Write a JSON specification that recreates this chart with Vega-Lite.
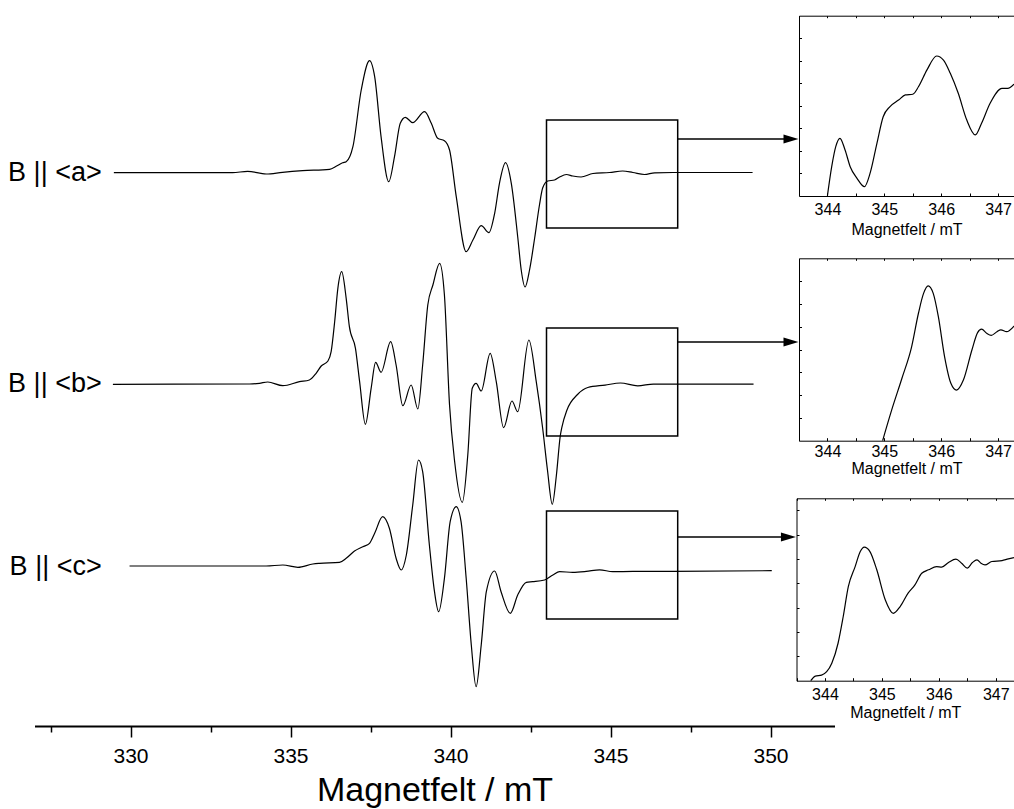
{
  "$schema": "https://vega.github.io/schema/vega-lite/v6.json",
  "width": 1014,
  "height": 809,
  "padding": 0,
  "autosize": {"type": "none"},
  "background": "white",
  "config": {
    "view": {"stroke": null},
    "font": "Liberation Sans",
    "axis": {"grid": false, "labelColor": "black", "titleColor": "black", "domainColor": "black", "tickColor": "black", "titleFontWeight": "normal", "labelOverlap": false, "labelFlush": false}
  },
  "datasets": {
    "spectra": [
      {"orientation": "a", "B": 329.48, "I": 63.63}, {"orientation": "a", "B": 333.19, "I": 63.63}, {"orientation": "a", "B": 333.66, "I": 63.77}, {"orientation": "a", "B": 334.24, "I": 63.50}, {"orientation": "a", "B": 334.75, "I": 63.67}, {"orientation": "a", "B": 335.38, "I": 63.83}, {"orientation": "a", "B": 336.22, "I": 63.97}, {"orientation": "a", "B": 336.44, "I": 64.30}, {"orientation": "a", "B": 336.63, "I": 64.63}, {"orientation": "a", "B": 336.74, "I": 64.73}, {"orientation": "a", "B": 336.95, "I": 66.23}, {"orientation": "a", "B": 337.21, "I": 71.90}, {"orientation": "a", "B": 337.47, "I": 74.83}, {"orientation": "a", "B": 337.63, "I": 73.23}, {"orientation": "a", "B": 337.83, "I": 67.23}, {"orientation": "a", "B": 338.07, "I": 62.73}, {"orientation": "a", "B": 338.25, "I": 65.23}, {"orientation": "a", "B": 338.43, "I": 68.57}, {"orientation": "a", "B": 338.59, "I": 69.17}, {"orientation": "a", "B": 338.82, "I": 68.63}, {"orientation": "a", "B": 339.19, "I": 69.73}, {"orientation": "a", "B": 339.40, "I": 68.57}, {"orientation": "a", "B": 339.60, "I": 67.07}, {"orientation": "a", "B": 339.81, "I": 66.83}, {"orientation": "a", "B": 339.97, "I": 65.90}, {"orientation": "a", "B": 340.18, "I": 61.23}, {"orientation": "a", "B": 340.49, "I": 55.73}, {"orientation": "a", "B": 340.70, "I": 56.90}, {"orientation": "a", "B": 340.96, "I": 58.33}, {"orientation": "a", "B": 341.20, "I": 57.63}, {"orientation": "a", "B": 341.38, "I": 59.57}, {"orientation": "a", "B": 341.53, "I": 62.57}, {"orientation": "a", "B": 341.72, "I": 64.63}, {"orientation": "a", "B": 341.90, "I": 62.57}, {"orientation": "a", "B": 342.10, "I": 57.23}, {"orientation": "a", "B": 342.21, "I": 53.90}, {"orientation": "a", "B": 342.33, "I": 52.20}, {"orientation": "a", "B": 342.47, "I": 53.90}, {"orientation": "a", "B": 342.63, "I": 57.10}, {"orientation": "a", "B": 342.78, "I": 60.40}, {"orientation": "a", "B": 342.88, "I": 62.10}, {"orientation": "a", "B": 343.04, "I": 62.80}, {"orientation": "a", "B": 343.25, "I": 62.90}, {"orientation": "a", "B": 343.41, "I": 63.20}, {"orientation": "a", "B": 343.62, "I": 63.45}, {"orientation": "a", "B": 343.82, "I": 63.30}, {"orientation": "a", "B": 344.08, "I": 63.20}, {"orientation": "a", "B": 344.45, "I": 63.55}, {"orientation": "a", "B": 344.97, "I": 63.65}, {"orientation": "a", "B": 345.38, "I": 63.80}, {"orientation": "a", "B": 345.70, "I": 63.65}, {"orientation": "a", "B": 346.06, "I": 63.45}, {"orientation": "a", "B": 346.38, "I": 63.62}, {"orientation": "a", "B": 346.95, "I": 63.65}, {"orientation": "a", "B": 349.44, "I": 63.65},
      {"orientation": "b", "B": 329.45, "I": 42.47}, {"orientation": "b", "B": 333.72, "I": 42.50}, {"orientation": "b", "B": 334.03, "I": 42.57}, {"orientation": "b", "B": 334.29, "I": 42.70}, {"orientation": "b", "B": 334.76, "I": 42.33}, {"orientation": "b", "B": 335.28, "I": 42.73}, {"orientation": "b", "B": 335.59, "I": 42.90}, {"orientation": "b", "B": 335.80, "I": 43.57}, {"orientation": "b", "B": 335.96, "I": 44.30}, {"orientation": "b", "B": 336.17, "I": 44.80}, {"orientation": "b", "B": 336.27, "I": 45.73}, {"orientation": "b", "B": 336.38, "I": 48.73}, {"orientation": "b", "B": 336.48, "I": 52.07}, {"orientation": "b", "B": 336.60, "I": 53.73}, {"orientation": "b", "B": 336.74, "I": 51.07}, {"orientation": "b", "B": 336.84, "I": 48.23}, {"orientation": "b", "B": 337.03, "I": 46.07}, {"orientation": "b", "B": 337.16, "I": 42.73}, {"orientation": "b", "B": 337.34, "I": 38.47}, {"orientation": "b", "B": 337.52, "I": 42.07}, {"orientation": "b", "B": 337.66, "I": 44.67}, {"orientation": "b", "B": 337.83, "I": 43.67}, {"orientation": "b", "B": 338.13, "I": 46.73}, {"orientation": "b", "B": 338.30, "I": 44.40}, {"orientation": "b", "B": 338.51, "I": 40.33}, {"orientation": "b", "B": 338.77, "I": 42.40}, {"orientation": "b", "B": 338.98, "I": 40.00}, {"orientation": "b", "B": 339.13, "I": 44.40}, {"orientation": "b", "B": 339.29, "I": 50.40}, {"orientation": "b", "B": 339.45, "I": 52.40}, {"orientation": "b", "B": 339.66, "I": 54.57}, {"orientation": "b", "B": 339.81, "I": 51.40}, {"orientation": "b", "B": 339.97, "I": 40.40}, {"orientation": "b", "B": 340.13, "I": 34.73}, {"orientation": "b", "B": 340.37, "I": 30.67}, {"orientation": "b", "B": 340.54, "I": 35.40}, {"orientation": "b", "B": 340.68, "I": 42.07}, {"orientation": "b", "B": 340.80, "I": 42.57}, {"orientation": "b", "B": 340.96, "I": 41.80}, {"orientation": "b", "B": 341.24, "I": 45.57}, {"orientation": "b", "B": 341.43, "I": 42.73}, {"orientation": "b", "B": 341.66, "I": 38.13}, {"orientation": "b", "B": 341.92, "I": 40.80}, {"orientation": "b", "B": 342.10, "I": 39.73}, {"orientation": "b", "B": 342.45, "I": 46.90}, {"orientation": "b", "B": 342.68, "I": 42.73}, {"orientation": "b", "B": 342.88, "I": 38.07}, {"orientation": "b", "B": 343.03, "I": 33.90}, {"orientation": "b", "B": 343.18, "I": 30.47}, {"orientation": "b", "B": 343.31, "I": 33.40}, {"orientation": "b", "B": 343.43, "I": 37.30}, {"orientation": "b", "B": 343.48, "I": 38.16}, {"orientation": "b", "B": 343.64, "I": 39.90}, {"orientation": "b", "B": 343.97, "I": 41.45}, {"orientation": "b", "B": 344.29, "I": 42.15}, {"orientation": "b", "B": 344.83, "I": 42.39}, {"orientation": "b", "B": 345.31, "I": 42.60}, {"orientation": "b", "B": 345.85, "I": 42.32}, {"orientation": "b", "B": 346.34, "I": 42.49}, {"orientation": "b", "B": 347.09, "I": 42.49}, {"orientation": "b", "B": 349.47, "I": 42.49},
      {"orientation": "c", "B": 329.97, "I": 24.30}, {"orientation": "c", "B": 334.24, "I": 24.30}, {"orientation": "c", "B": 334.76, "I": 24.40}, {"orientation": "c", "B": 335.23, "I": 24.17}, {"orientation": "c", "B": 335.70, "I": 24.50}, {"orientation": "c", "B": 335.91, "I": 24.57}, {"orientation": "c", "B": 336.53, "I": 24.67}, {"orientation": "c", "B": 336.74, "I": 25.07}, {"orientation": "c", "B": 337.00, "I": 25.80}, {"orientation": "c", "B": 337.26, "I": 26.23}, {"orientation": "c", "B": 337.47, "I": 26.57}, {"orientation": "c", "B": 337.63, "I": 27.57}, {"orientation": "c", "B": 337.88, "I": 29.23}, {"orientation": "c", "B": 338.09, "I": 28.07}, {"orientation": "c", "B": 338.30, "I": 25.07}, {"orientation": "c", "B": 338.46, "I": 23.90}, {"orientation": "c", "B": 338.62, "I": 25.40}, {"orientation": "c", "B": 338.82, "I": 30.40}, {"orientation": "c", "B": 339.00, "I": 34.90}, {"orientation": "c", "B": 339.13, "I": 33.73}, {"orientation": "c", "B": 339.34, "I": 26.40}, {"orientation": "c", "B": 339.50, "I": 21.73}, {"orientation": "c", "B": 339.63, "I": 19.73}, {"orientation": "c", "B": 339.81, "I": 23.07}, {"orientation": "c", "B": 339.99, "I": 28.73}, {"orientation": "c", "B": 340.18, "I": 30.23}, {"orientation": "c", "B": 340.33, "I": 28.73}, {"orientation": "c", "B": 340.49, "I": 23.07}, {"orientation": "c", "B": 340.65, "I": 16.40}, {"orientation": "c", "B": 340.80, "I": 12.23}, {"orientation": "c", "B": 340.96, "I": 16.40}, {"orientation": "c", "B": 341.12, "I": 21.73}, {"orientation": "c", "B": 341.38, "I": 23.80}, {"orientation": "c", "B": 341.58, "I": 21.73}, {"orientation": "c", "B": 341.87, "I": 19.57}, {"orientation": "c", "B": 342.10, "I": 21.40}, {"orientation": "c", "B": 342.37, "I": 22.67}, {"orientation": "c", "B": 342.57, "I": 22.73}, {"orientation": "c", "B": 342.94, "I": 22.90}, {"orientation": "c", "B": 343.20, "I": 23.40}, {"orientation": "c", "B": 343.41, "I": 23.73}, {"orientation": "c", "B": 343.82, "I": 23.67}, {"orientation": "c", "B": 344.24, "I": 23.76}, {"orientation": "c", "B": 344.66, "I": 23.92}, {"orientation": "c", "B": 345.07, "I": 23.73}, {"orientation": "c", "B": 345.70, "I": 23.76}, {"orientation": "c", "B": 346.95, "I": 23.76}, {"orientation": "c", "B": 350.04, "I": 23.83}
    ],
    "boxes": [
      {"B": 343.0, "B2": 347.1, "I": 68.9, "I2": 58.1},
      {"B": 343.0, "B2": 347.1, "I": 48.1, "I2": 37.3},
      {"B": 343.0, "B2": 347.1, "I": 29.8, "I2": 19.0}
    ],
    "arrows": [
      {"B": 347.1, "B2": 350.6, "I": 67.0},
      {"B": 347.1, "B2": 350.6, "I": 46.7},
      {"B": 347.1, "B2": 350.5, "I": 27.2}
    ],
    "heads": [
      {"B": 350.64, "I": 67.0},
      {"B": 350.64, "I": 46.7},
      {"B": 350.56, "I": 27.2}
    ],
    "labels": [
      {"B": 329.1, "I": 63.63, "label": "B || <a>"},
      {"B": 329.1, "I": 42.47, "label": "B || <b>"},
      {"B": 329.1, "I": 24.23, "label": "B || <c>"}
    ],
    "inset_a": [
      {"B": 344.00, "I": 0}, {"B": 344.075, "I": 1.29}, {"B": 344.146, "I": 2.18}, {"B": 344.22, "I": 2.55}, {"B": 344.31, "I": 2.03}, {"B": 344.40, "I": 1.29}, {"B": 344.52, "I": 0.77}, {"B": 344.65, "I": 0.40}, {"B": 344.75, "I": 1.00}, {"B": 344.87, "I": 2.33}, {"B": 344.98, "I": 3.51}, {"B": 345.10, "I": 3.96}, {"B": 345.25, "I": 4.25}, {"B": 345.37, "I": 4.48}, {"B": 345.50, "I": 4.51}, {"B": 345.60, "I": 4.84}, {"B": 345.75, "I": 5.59}, {"B": 345.92, "I": 6.21}, {"B": 346.04, "I": 6.03}, {"B": 346.16, "I": 5.44}, {"B": 346.30, "I": 4.55}, {"B": 346.45, "I": 3.36}, {"B": 346.60, "I": 2.70}, {"B": 346.71, "I": 3.22}, {"B": 346.86, "I": 4.11}, {"B": 347.07, "I": 4.77}, {"B": 347.17, "I": 4.77}, {"B": 347.28, "I": 4.96}
    ],
    "inset_b": [
      {"B": 344.97, "I": 0}, {"B": 345.13, "I": 1.35}, {"B": 345.31, "I": 2.74}, {"B": 345.48, "I": 4.12}, {"B": 345.60, "I": 5.59}, {"B": 345.69, "I": 6.46}, {"B": 345.77, "I": 6.79}, {"B": 345.86, "I": 6.46}, {"B": 345.95, "I": 5.44}, {"B": 346.06, "I": 3.68}, {"B": 346.17, "I": 2.52}, {"B": 346.27, "I": 2.22}, {"B": 346.39, "I": 2.66}, {"B": 346.54, "I": 3.98}, {"B": 346.64, "I": 4.74}, {"B": 346.71, "I": 4.89}, {"B": 346.80, "I": 4.71}, {"B": 346.88, "I": 4.62}, {"B": 346.98, "I": 4.78}, {"B": 347.05, "I": 4.86}, {"B": 347.15, "I": 4.78}, {"B": 347.28, "I": 5.03}
    ],
    "inset_c": [
      {"B": 343.75, "I": 0}, {"B": 343.83, "I": 0.19}, {"B": 343.94, "I": 0.23}, {"B": 344.03, "I": 0.37}, {"B": 344.12, "I": 0.72}, {"B": 344.23, "I": 1.54}, {"B": 344.32, "I": 2.63}, {"B": 344.41, "I": 3.87}, {"B": 344.53, "I": 4.69}, {"B": 344.62, "I": 5.31}, {"B": 344.69, "I": 5.49}, {"B": 344.79, "I": 5.31}, {"B": 344.91, "I": 4.56}, {"B": 345.06, "I": 3.32}, {"B": 345.20, "I": 2.77}, {"B": 345.32, "I": 3.05}, {"B": 345.46, "I": 3.60}, {"B": 345.58, "I": 3.94}, {"B": 345.70, "I": 4.42}, {"B": 345.82, "I": 4.56}, {"B": 345.96, "I": 4.69}, {"B": 346.05, "I": 4.67}, {"B": 346.17, "I": 4.86}, {"B": 346.30, "I": 5.00}, {"B": 346.40, "I": 4.83}, {"B": 346.50, "I": 4.63}, {"B": 346.59, "I": 4.86}, {"B": 346.67, "I": 4.97}, {"B": 346.74, "I": 4.83}, {"B": 346.81, "I": 4.76}, {"B": 346.93, "I": 4.90}, {"B": 347.11, "I": 4.94}, {"B": 347.22, "I": 5.01}, {"B": 347.32, "I": 5.06}
    ]
  },
  "layer": [
    {
      "encoding": {
        "x": {
          "field": "B", "type": "quantitative",
          "scale": {"domain": [327, 352], "range": [34.5, 834.5], "nice": false, "zero": false},
          "axis": {
            "orient": "bottom", "offset": -83,
            "values": [327.5, 330, 332.5, 335, 337.5, 340, 342.5, 345, 347.5, 350],
            "labelExpr": "datum.value % 5 === 0 ? datum.label : ''",
            "tickSize": {"condition": {"test": "datum.value % 5 === 0", "value": 11}, "value": 6},
            "tickWidth": 1.5, "domainWidth": 2,
            "labelFontSize": 21, "labelPadding": 8,
            "title": "Magnetfelt / mT", "titleFontSize": 34, "titlePadding": 7
          }
        },
        "y": {"field": "I", "type": "quantitative", "scale": {"domain": [0, 80.9], "nice": false, "zero": false}, "axis": null}
      },
      "layer": [
        {"data": {"name": "spectra"}, "mark": {"type": "line", "color": "black", "strokeWidth": 1.2, "interpolate": "monotone"}, "encoding": {"detail": {"field": "orientation"}}},
        {"data": {"name": "boxes"}, "mark": {"type": "rect", "fill": "transparent", "stroke": "black", "strokeWidth": 1.5}, "encoding": {"x2": {"field": "B2"}, "y2": {"field": "I2"}}},
        {"data": {"name": "arrows"}, "mark": {"type": "rule", "color": "black", "strokeWidth": 1.5}, "encoding": {"x2": {"field": "B2"}}},
        {"data": {"name": "heads"}, "mark": {"type": "point", "shape": "M -1 -0.6 L 1 0 L -1 0.6 Z", "size": 225, "filled": true, "color": "black", "opacity": 1}},
        {"data": {"name": "labels"}, "mark": {"type": "text", "align": "right", "baseline": "middle", "fontSize": 27, "color": "black"}, "encoding": {"text": {"field": "label"}}}
      ]
    },
    {
      "data": {"name": "inset_a"},
      "encoding": {
        "y": {"field": "I", "type": "quantitative", "scale": {"domain": [0, 8], "range": [195.7, 15.7], "nice": false, "zero": false},
          "axis": {"orient": "left", "offset": -799, "values": [1, 2, 3, 4, 5, 6, 7], "labels": false, "tickSize": -2.5, "title": null}}
      },
      "layer": [
        {"mark": {"type": "line", "color": "black", "strokeWidth": 1.2, "interpolate": "monotone"},
          "encoding": {"x": {"field": "B", "type": "quantitative", "scale": {"domain": [343.5, 347.28], "range": [799, 1014], "nice": false, "zero": false},
            "axis": {"orient": "bottom", "offset": -613, "values": [343.5, 344, 344.5, 345, 345.5, 346, 346.5, 347], "labelExpr": "datum.value % 1 === 0 ? format(datum.value, 'd') : ''", "tickSize": -3, "labelFontSize": 16, "labelPadding": 8, "title": "Magnetfelt / mT", "titleFontSize": 16, "titlePadding": 4}}}},
        {"mark": {"type": "line", "opacity": 0},
          "encoding": {"x": {"field": "B", "type": "quantitative", "scale": {"domain": [343.5, 347.28], "range": [799, 1014], "nice": false, "zero": false},
            "axis": {"orient": "top", "offset": -15.7, "values": [343.5, 344, 344.5, 345, 345.5, 346, 346.5, 347], "labels": false, "tickSize": -2, "title": null}}}}
      ],
      "resolve": {"axis": {"x": "independent"}}
    },
    {
      "data": {"name": "inset_b"},
      "encoding": {
        "y": {"field": "I", "type": "quantitative", "scale": {"domain": [0, 8], "range": [440.7, 258.3], "nice": false, "zero": false},
          "axis": {"orient": "left", "offset": -799, "values": [1, 2, 3, 4, 5, 6, 7], "labels": false, "tickSize": -2.5, "title": null}}
      },
      "layer": [
        {"mark": {"type": "line", "color": "black", "strokeWidth": 1.2, "interpolate": "monotone"},
          "encoding": {"x": {"field": "B", "type": "quantitative", "scale": {"domain": [343.5, 347.28], "range": [799, 1014], "nice": false, "zero": false},
            "axis": {"orient": "bottom", "offset": -368.3, "values": [343.5, 344, 344.5, 345, 345.5, 346, 346.5, 347], "labelExpr": "datum.value % 1 === 0 ? format(datum.value, 'd') : ''", "tickSize": -3, "labelFontSize": 16, "labelPadding": 6, "title": "Magnetfelt / mT", "titleFontSize": 16, "titlePadding": 1}}}},
        {"mark": {"type": "line", "opacity": 0},
          "encoding": {"x": {"field": "B", "type": "quantitative", "scale": {"domain": [343.5, 347.28], "range": [799, 1014], "nice": false, "zero": false},
            "axis": {"orient": "top", "offset": -258.3, "values": [343.5, 344, 344.5, 345, 345.5, 346, 346.5, 347], "labels": false, "tickSize": -2, "title": null}}}}
      ],
      "resolve": {"axis": {"x": "independent"}}
    },
    {
      "data": {"name": "inset_c"},
      "encoding": {
        "y": {"field": "I", "type": "quantitative", "scale": {"domain": [0, 7.5], "range": [680.7, 498.3], "nice": false, "zero": false},
          "axis": {"orient": "left", "offset": -796.5, "values": [1, 2, 3, 4, 5, 6, 7], "labels": false, "tickSize": -2.5, "title": null}}
      },
      "layer": [
        {"mark": {"type": "line", "color": "black", "strokeWidth": 1.2, "interpolate": "monotone"},
          "encoding": {"x": {"field": "B", "type": "quantitative", "scale": {"domain": [343.5, 347.32], "range": [796.5, 1014], "nice": false, "zero": false},
            "axis": {"orient": "bottom", "offset": -128.3, "values": [343.5, 344, 344.5, 345, 345.5, 346, 346.5, 347], "labelExpr": "datum.value % 1 === 0 ? format(datum.value, 'd') : ''", "tickSize": -3, "labelFontSize": 16, "labelPadding": 9, "title": "Magnetfelt / mT", "titleFontSize": 16, "titlePadding": 2}}}},
        {"mark": {"type": "line", "opacity": 0},
          "encoding": {"x": {"field": "B", "type": "quantitative", "scale": {"domain": [343.5, 347.32], "range": [796.5, 1014], "nice": false, "zero": false},
            "axis": {"orient": "top", "offset": -498.3, "values": [343.5, 344, 344.5, 345, 345.5, 346, 346.5, 347], "labels": false, "tickSize": -2, "title": null}}}}
      ],
      "resolve": {"axis": {"x": "independent"}}
    }
  ],
  "resolve": {"scale": {"x": "independent", "y": "independent"}, "axis": {"x": "independent", "y": "independent"}}
}
